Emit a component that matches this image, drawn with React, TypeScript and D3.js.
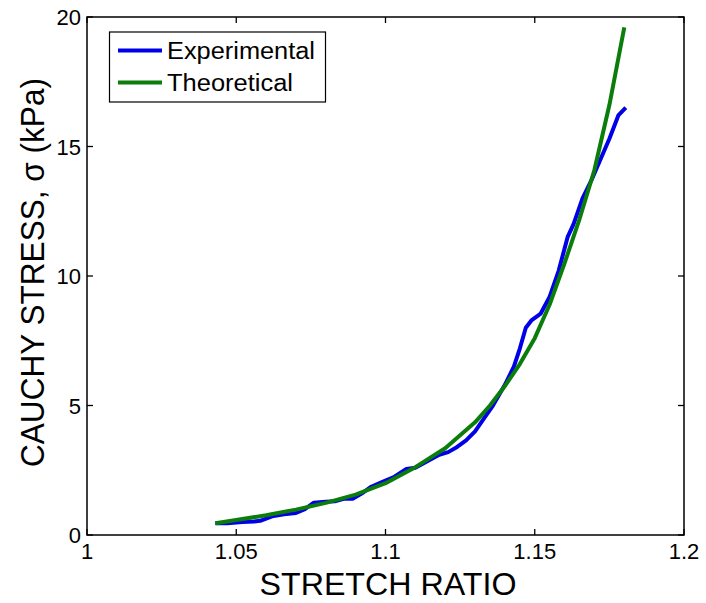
import React from "react";
import * as d3 from "d3";

// Stretch ratio (λ) and Cauchy stress (kPa) for the measured curve
const expStretch = [
  1.043, 1.047, 1.052, 1.056, 1.058, 1.062, 1.066, 1.07, 1.073, 1.076, 1.08,
  1.083, 1.086, 1.089, 1.092, 1.095, 1.099, 1.103, 1.107, 1.11, 1.114, 1.118,
  1.121, 1.124, 1.127, 1.13, 1.133, 1.136, 1.14, 1.143, 1.145, 1.147, 1.149,
  1.152, 1.155, 1.158, 1.161, 1.163, 1.166, 1.169, 1.172, 1.175, 1.178, 1.1805,
];
const expStress = [
  0.45, 0.45, 0.5, 0.52, 0.55, 0.72, 0.8, 0.85, 1.0, 1.25, 1.28, 1.3, 1.4, 1.4,
  1.6, 1.85, 2.05, 2.25, 2.55, 2.6, 2.85, 3.1, 3.2, 3.4, 3.65, 4.0, 4.5, 5.0,
  5.8, 6.5, 7.2, 8.0, 8.3, 8.55, 9.2, 10.2, 11.5, 12.0, 13.0, 13.7, 14.5, 15.3,
  16.2, 16.5,
];

// Model prediction
const thStretch = [
  1.043, 1.05, 1.06, 1.07, 1.08, 1.09, 1.1, 1.11, 1.12, 1.13, 1.135, 1.14,
  1.145, 1.15, 1.155, 1.16, 1.165, 1.17, 1.175, 1.18,
];
const thStress = [
  0.45, 0.58, 0.76, 0.98, 1.24, 1.56, 2.0, 2.62, 3.35, 4.35, 5.0, 5.75, 6.6,
  7.6, 8.9, 10.5, 12.2, 14.1, 16.6, 19.6,
];

const xTicks = [1, 1.05, 1.1, 1.15, 1.2];
const xTickLabels = ["1", "1.05", "1.1", "1.15", "1.2"];
const yTicks = [0, 5, 10, 15, 20];
const yTickLabels = ["0", "5", "10", "15", "20"];

const seriesNames = ["Experimental", "Theoretical"];
const seriesColors = ["#0000e8", "#0b7d0b"];

const W = 706;
const H = 603;
const left = 87;
const right = 684;
const top = 17;
const bottom = 535;
const FONT = "Arial, 'Liberation Sans', Helvetica, sans-serif";

export default function App() {
  const x = d3.scaleLinear().domain([1, 1.2]).range([left, right]);
  const y = d3.scaleLinear().domain([0, 20]).range([bottom, top]);

  const line = d3
    .line<[number, number]>()
    .x((d) => x(d[0]))
    .y((d) => y(d[1]))
    .curve(d3.curveLinear);

  const expPts = expStretch.map((v, i) => [v, expStress[i]] as [number, number]);
  const thPts = thStretch.map((v, i) => [v, thStress[i]] as [number, number]);

  const tickLen = 6;

  return (
    <svg
      width={W}
      height={H}
      style={{ position: "absolute", left: 0, top: 0, background: "#fff" }}
      fontFamily={FONT}
    >
      <rect x={0} y={0} width={W} height={H} fill="#fff" />

      {/* data */}
      <path
        d={line(expPts) || ""}
        fill="none"
        stroke={seriesColors[0]}
        strokeWidth={4}
        strokeLinejoin="round"
      />
      <path
        d={line(thPts) || ""}
        fill="none"
        stroke={seriesColors[1]}
        strokeWidth={4}
        strokeLinejoin="round"
      />

      {/* axes box */}
      <rect
        x={left}
        y={top}
        width={right - left}
        height={bottom - top}
        fill="none"
        stroke="#000"
        strokeWidth={1.5}
      />

      {/* x ticks (inward, bottom and top) */}
      {xTicks.map((t, i) => (
        <g key={"xt" + i}>
          <line x1={x(t)} x2={x(t)} y1={bottom} y2={bottom - tickLen} stroke="#000" strokeWidth={1.3} />
          <line x1={x(t)} x2={x(t)} y1={top} y2={top + tickLen} stroke="#000" strokeWidth={1.3} />
          <text x={x(t)} y={559} textAnchor="middle" fontSize={22} fill="#000">
            {xTickLabels[i]}
          </text>
        </g>
      ))}

      {/* y ticks (inward, left and right) */}
      {yTicks.map((t, i) => (
        <g key={"yt" + i}>
          <line x1={left} x2={left + tickLen} y1={y(t)} y2={y(t)} stroke="#000" strokeWidth={1.3} />
          <line x1={right} x2={right - tickLen} y1={y(t)} y2={y(t)} stroke="#000" strokeWidth={1.3} />
          <text x={81} y={y(t) + 8} textAnchor="end" fontSize={22} fill="#000">
            {yTickLabels[i]}
          </text>
        </g>
      ))}

      {/* axis titles */}
      <text
        x={388}
        y={595}
        textAnchor="middle"
        fontSize={31}
        textLength={257}
        lengthAdjust="spacingAndGlyphs"
        fill="#000"
      >
        STRETCH RATIO
      </text>
      <text
        transform={`translate(44, ${(78 + 467) / 2}) rotate(-90)`}
        textAnchor="middle"
        fontSize={34}
        textLength={389}
        lengthAdjust="spacingAndGlyphs"
        fill="#000"
      >
        CAUCHY STRESS, σ (kPa)
      </text>

      {/* legend */}
      <rect x={109.5} y={32} width={216} height={70} fill="#fff" stroke="#000" strokeWidth={1.2} />
      {seriesNames.map((name, i) => {
        const ly = 50.5 + i * 32;
        return (
          <g key={name}>
            <line x1={118} x2={162} y1={ly} y2={ly} stroke={seriesColors[i]} strokeWidth={4} />
            <text
              x={167}
              y={ly + 8}
              fontSize={23}
              textLength={i === 0 ? 148 : 126}
              lengthAdjust="spacingAndGlyphs"
              fill="#000"
            >
              {name}
            </text>
          </g>
        );
      })}
    </svg>
  );
}
